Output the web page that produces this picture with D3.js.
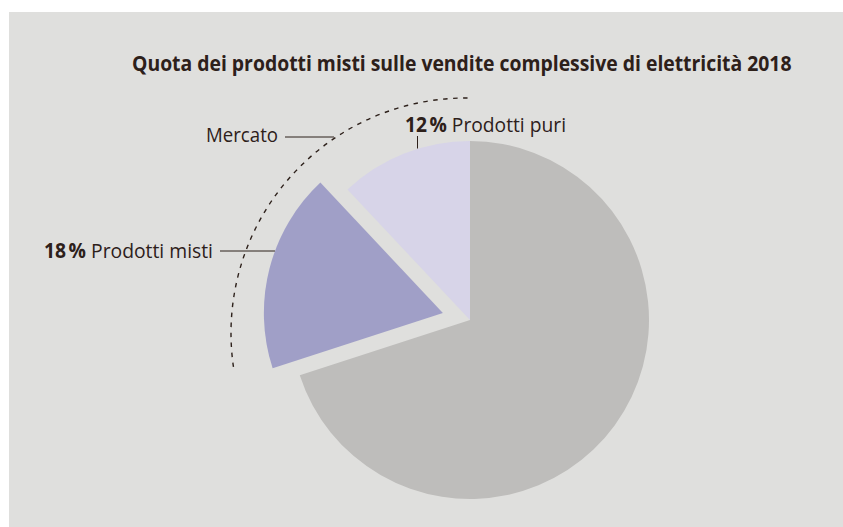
<!DOCTYPE html>
<html>
<head>
<meta charset="utf-8">
<script src="https://cdn.jsdelivr.net/npm/d3@7"></script>
<style>
  html, body { margin: 0; padding: 0; background: #ffffff; }
  svg { display: block; }
</style>
</head>
<body>
<svg id="chart" width="843" height="527"></svg>
<script>
// ---- data ----
const title = "Quota dei prodotti misti sulle vendite complessive di elettricità 2018";
const categories = ["Altri prodotti", "Prodotti misti", "Prodotti puri"];
const shares = [70, 18, 12];
const shareLabels = ["", "18\u202F%", "12\u202F%"];
const marketLabel = "Mercato";

// ---- layout ----
const W = 843, H = 527;
const colors = ["#bebdbb", "#a09fc7", "#d7d4e8"];
const textColor = "#2d201a";
const cx = 470, cy = 320, R = 179, explode = 28;

const svg = d3.select("#chart");
svg.append("rect").attr("x", 9).attr("y", 12).attr("width", W - 9).attr("height", H - 12)
  .attr("fill", "#dfdfdd");

// title, horizontally condensed to the reference width
const tg = svg.append("g");
const tt = tg.append("text")
  .attr("x", 0).attr("y", 0)
  .attr("font-family", "'Open Sans', sans-serif")
  .attr("font-weight", 700).attr("font-size", 21)
  .attr("fill", textColor)
  .text(title);
const natural = tt.node().getComputedTextLength() || 660;
tg.attr("transform", `translate(132,70.5) scale(${660 / natural},1)`);

const data = categories.map((c, i) => ({ name: c, value: shares[i], label: shareLabels[i] }));
const pie = d3.pie().value(d => d.value).sort(null).startAngle(0).endAngle(2 * Math.PI);
const arcs = pie(data);
const arcGen = d3.arc().innerRadius(0).outerRadius(R);

const g = svg.append("g").attr("transform", `translate(${cx},${cy})`);
g.selectAll("path.slice").data(arcs).enter().append("path")
  .attr("class", "slice")
  .attr("fill", (d, i) => colors[i])
  .attr("transform", (d, i) => {
    if (i !== 1) return null;
    const m = (d.startAngle + d.endAngle) / 2;
    return `translate(${explode * Math.sin(m)},${-explode * Math.cos(m)})`;
  })
  .attr("d", arcGen);

// dashed "Mercato" arc
const mcx = cx - 4, mcy = cy + 13, mR = 235;
const toRad = a => a * Math.PI / 180;
const p = d3.path();
const a0 = toRad(-98.3) - Math.PI / 2, a1 = toRad(0.5) - Math.PI / 2;
p.arc(mcx, mcy, mR, a0, a1, false);
svg.append("path").attr("d", p.toString())
  .attr("fill", "none").attr("stroke", textColor)
  .attr("stroke-width", 1.4).attr("stroke-dasharray", "4.5,5.5");

const labelFont = "'Open Sans', sans-serif";
const fs = 20.5;

// Mercato label
svg.append("text").attr("x", 278).attr("y", 142)
  .attr("text-anchor", "end").attr("font-family", labelFont).attr("font-size", fs)
  .attr("fill", textColor)
  .attr("textLength", 72).attr("lengthAdjust", "spacingAndGlyphs")
  .text(marketLabel);
svg.append("line").attr("x1", 285).attr("x2", 334).attr("y1", 137).attr("y2", 137)
  .attr("stroke", textColor).attr("stroke-width", 1);

// 18 % Prodotti misti
const misti = arcs[1];
const mm = (misti.startAngle + misti.endAngle) / 2;
const pcx = cx + explode * Math.sin(mm), pcy = cy - explode * Math.cos(mm);
const ly = 251;
const lxEnd = pcx - Math.sqrt(R * R - (ly - pcy) * (ly - pcy));
const t18 = svg.append("text").attr("x", 213).attr("y", 257.5)
  .attr("text-anchor", "end").attr("font-family", labelFont).attr("font-size", fs)
  .attr("fill", textColor)
  .attr("textLength", 169).attr("lengthAdjust", "spacingAndGlyphs");
t18.append("tspan").attr("font-weight", 700).text(misti.data.label);
t18.append("tspan").text(" " + misti.data.name);
svg.append("line").attr("x1", 220).attr("x2", lxEnd).attr("y1", ly).attr("y2", ly)
  .attr("stroke", textColor).attr("stroke-width", 1);

// 12 % Prodotti puri
const puri = arcs[2];
const t12 = svg.append("text").attr("x", 405).attr("y", 132)
  .attr("font-family", labelFont).attr("font-size", fs)
  .attr("fill", textColor)
  .attr("textLength", 161).attr("lengthAdjust", "spacingAndGlyphs");
t12.append("tspan").attr("font-weight", 700).text(puri.data.label);
t12.append("tspan").text(" " + puri.data.name);
svg.append("line").attr("x1", 417.5).attr("x2", 417.5).attr("y1", 136).attr("y2", 148.5)
  .attr("stroke", textColor).attr("stroke-width", 1);
</script>
</body>
</html>
